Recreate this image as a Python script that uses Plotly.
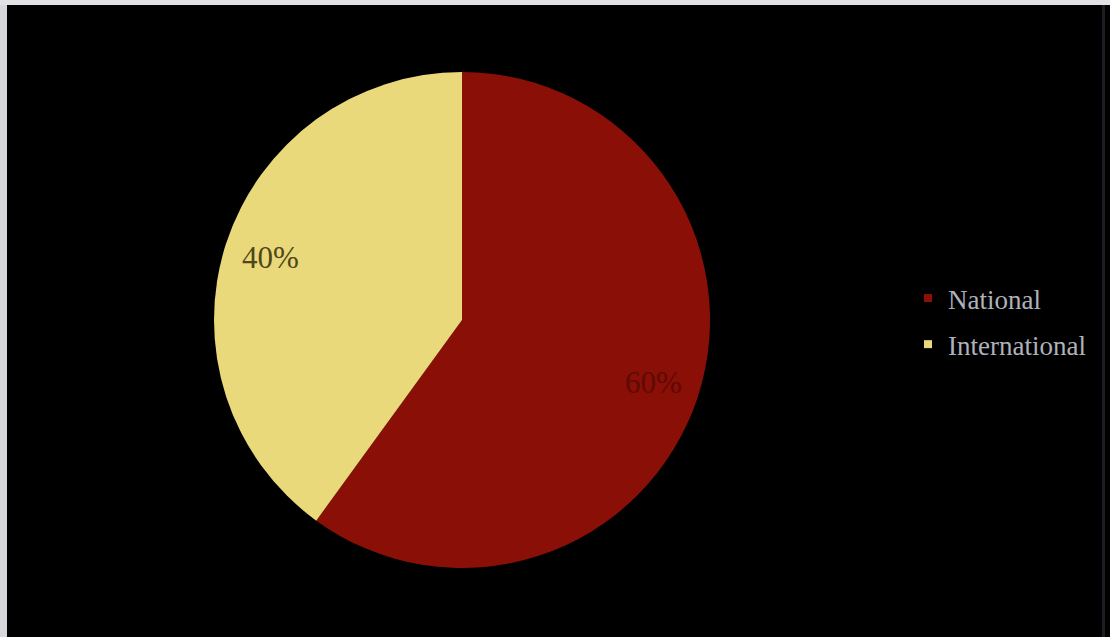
import math
import plotly.graph_objects as go

# Share of participants by origin
labels = ["National", "International"]
values = [60, 40]
slice_colors = ["#8a0f06", "#e9d97a"]
pct_colors = ["#5e0a05", "#4f4719"]

W, H = 1110, 637
# pie geometry in pixels
cx_px, cy_px, r_px = 462, 320, 248
domain_x = [(cx_px - r_px) / W, (cx_px + r_px) / W]
domain_y = [1 - (cy_px + r_px) / H, 1 - (cy_px - r_px) / H]

fig = go.Figure()
fig.add_trace(go.Pie(
    labels=labels,
    values=values,
    sort=False,
    direction="clockwise",
    rotation=0,
    marker=dict(colors=slice_colors, line=dict(width=0)),
    textinfo="none",
    hoverinfo="label+percent",
    showlegend=False,
    domain=dict(x=domain_x, y=domain_y),
))

# legend entries (separate traces so row spacing can be controlled)
for lbl, col in zip(labels, slice_colors):
    fig.add_trace(go.Scatter(
        x=[None], y=[None], mode="markers",
        marker=dict(symbol="square", size=8, color=col),
        name=lbl, legendgroup=lbl, showlegend=True, hoverinfo="skip",
    ))

# percentage labels placed along each slice's mid-angle
total = sum(values)
start = 0.0
annotations = []
for v, tc in zip(values, pct_colors):
    frac = v / total
    mid = (start + frac / 2) * 2 * math.pi
    start += frac
    px = cx_px + 0.81 * r_px * math.sin(mid)
    py = cy_px - 0.81 * r_px * math.cos(mid)
    annotations.append(dict(
        x=px / W, y=1 - py / H, xref="paper", yref="paper",
        xanchor="center", yanchor="middle",
        text=f"{round(frac * 100)}%", showarrow=False,
        font=dict(family="Liberation Serif", size=31, color=tc),
    ))

border = "#d6d6dc"
shapes = [
    dict(type="rect", xref="paper", yref="paper", x0=0, x1=7 / W, y0=0, y1=1,
         fillcolor=border, line=dict(width=0)),
    dict(type="rect", xref="paper", yref="paper", x0=0, x1=1, y0=1 - 5 / H, y1=1,
         fillcolor="#e2e2e6", line=dict(width=0)),
    dict(type="rect", xref="paper", yref="paper", x0=1102 / W, x1=1105 / W, y0=0, y1=1 - 5 / H,
         fillcolor="#1c1c24", line=dict(width=0)),
]

fig.update_layout(
    width=W, height=H, autosize=False,
    margin=dict(l=0, r=0, t=0, b=0),
    paper_bgcolor="#000000",
    plot_bgcolor="#000000",
    xaxis=dict(visible=False),
    yaxis=dict(visible=False),
    showlegend=True,
    legend=dict(
        x=908 / W, y=1 - 274 / H, xanchor="left", yanchor="top",
        bgcolor="rgba(0,0,0,0)",
        font=dict(family="Liberation Serif", size=27, color="#aeb2ba"),
        tracegroupgap=8,
        traceorder="grouped",
    ),
    annotations=annotations,
    shapes=shapes,
)

fig.write_html("out.html")
